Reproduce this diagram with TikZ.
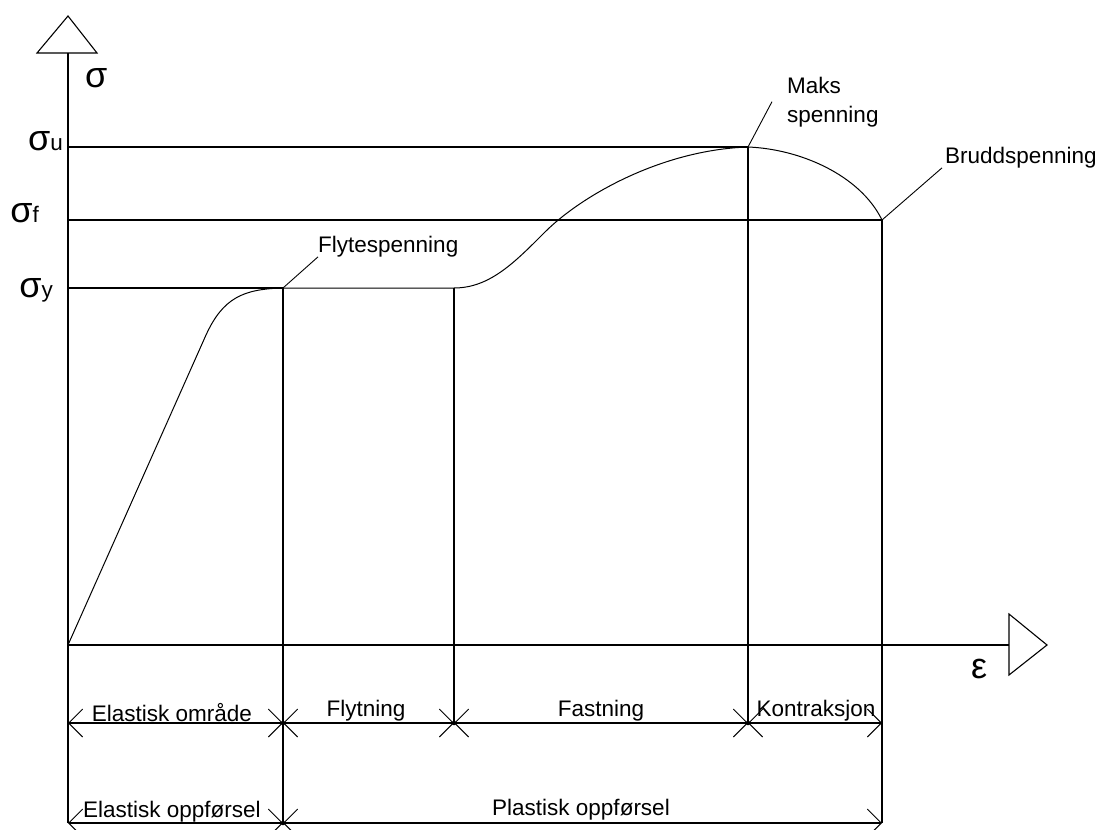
\documentclass[tikz,border=0pt]{standalone}
\usepackage{fontspec}
\setmainfont{Liberation Sans}
\usetikzlibrary{arrows.meta}
\begin{document}
\begin{tikzpicture}[x=1pt,y=-1pt,
  axis/.style={line width=1.1pt,line join=miter},
  guide/.style={line width=1.1pt},
  leader/.style={line width=0.9pt},
  curve/.style={line width=1pt},
  barb/.tip={Straight Barb[length=14pt,width=28pt,line width=0.9pt]},
  dim/.style={line width=1.1pt,barb-barb},
  lbl/.style={font=\fontsize{22.5}{29}\selectfont, inner sep=0pt},
  big/.style={inner sep=0pt},
  dot/.style={circle,fill,inner sep=0pt,minimum size=4.5pt}
]
\useasboundingbox (0,0) rectangle (1104,830);

% key coordinates
\coordinate (O) at (68,645);
\coordinate (Ytop) at (68,53);
\coordinate (Ybot) at (68,823);
\coordinate (Xend) at (1009,645);
\coordinate (Pu) at (748,147);
\coordinate (Pf) at (882,220);
\coordinate (Py1) at (283,288);
\coordinate (Py2) at (454,288);
\coordinate (Knee) at (206,335);
\coordinate (Infl) at (545,232);

% dimension coordinates
\coordinate (d0) at (68,723);
\coordinate (d1) at (283,723);
\coordinate (d2) at (454,723);
\coordinate (d3) at (748,723);
\coordinate (d4) at (882,723);
\coordinate (e0) at (68,823);
\coordinate (e1) at (283,823);
\coordinate (e2) at (882,823);

% axes
\draw[axis] (Ybot) -- (Ytop);
\draw[axis] (37,53) -- (97,53) -- (68,16) -- cycle;
\draw[axis] (O) -- (Xend);
\draw[axis] (1009,614) -- (1009,675) -- (1047,645) -- cycle;

% axis labels
\node[big, anchor=base west] (sig) at (85,87) {\fontsize{36}{40}\selectfont σ};
\node[big, anchor=base west] (eps) at (971,678) {\fontsize{36}{40}\selectfont ε};
\node[big, anchor=base east] (su) at (63,150) {\fontsize{36}{40}\selectfont σ\fontsize{22.5}{27}\selectfont u};
\node[big, anchor=base east] (sf) at (39,222) {\fontsize{36}{40}\selectfont σ\fontsize{22.5}{27}\selectfont f};
\node[big, anchor=base east] (sy) at (53,297) {\fontsize{36}{40}\selectfont σ\fontsize{22.5}{27}\selectfont y};

% horizontal guide lines
\draw[guide] (Ytop|-Pu) -- (Pu);
\draw[guide] (Ytop|-Pf) -- (Pf);
\draw[guide] (Ytop|-Py1) -- (Py1);

% vertical guide lines
\draw[guide] (Py1) -- (e1);
\draw[guide] (Py2) -- (d2);
\draw[guide] (Pu) -- (d3);
\draw[guide] (Pf) -- (e2);

% stress-strain curve
\draw[curve] (O) -- (Knee)
  .. controls (223,298) and (243,289) .. (Py1) -- (Py2)
  .. controls (490,288) and (515,262) .. (Infl)
  .. controls (580,197) and (660,150) .. (Pu)
  .. controls (800,149) and (860,175) .. (Pf);

% annotations
\node[lbl, anchor=base west] (flyte) at (318,252) {Flytespenning};
\draw[leader] (Py1) -- (flyte.south west);
\node[lbl, anchor=north west, align=left] (maks) at (787,76.5) {Maks\\spenning};
\draw[leader] (Pu) -- ([xshift=-15pt]maks.west);
\node[lbl, anchor=base west] (brudd) at (945,163) {Bruddspenning};
\draw[leader] (Pf) -- ([xshift=-3pt]brudd.south west);

% dimension lines
\draw[dim] (d0) -- (d1);
\draw[dim] (d1) -- (d2);
\draw[dim] (d2) -- (d3);
\draw[dim] (d3) -- (d4);
\draw[dim] (e0) -- (e1);
\draw[dim] (e1) -- (e2);
\node[dot] (k1) at (d1) {};
\node[dot] (k2) at (d2) {};
\node[dot] (k3) at (d3) {};
\node[dot] (k4) at (e1) {};

\node[lbl, anchor=base] (t1) at (172,721) {Elastisk område};
\node[lbl, anchor=base] (t2) at (366,716) {Flytning};
\node[lbl, anchor=base] (t3) at (601,716) {Fastning};
\node[lbl, anchor=base] (t4) at (816,716) {Kontraksjon};
\node[lbl, anchor=base] (t5) at (172,817) {Elastisk oppførsel};
\node[lbl, anchor=base] (t6) at (581,815) {Plastisk oppførsel};
\end{tikzpicture}
\end{document}
